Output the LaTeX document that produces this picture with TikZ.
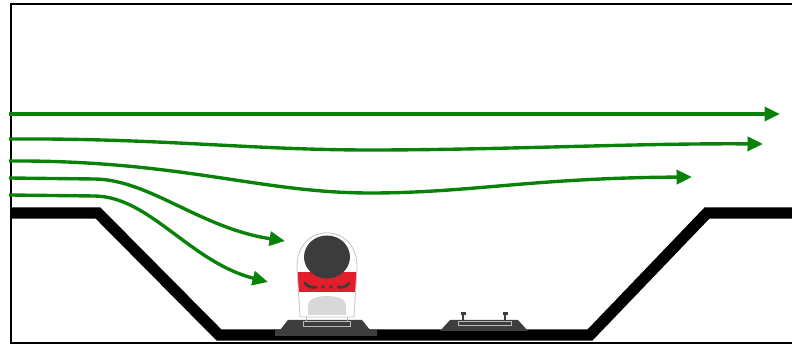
\documentclass[tikz,border=0pt]{standalone}
\usepackage{tikz}
\usetikzlibrary{arrows.meta}

\definecolor{flowgreen}{RGB}{10,130,10}
\definecolor{slabgray}{RGB}{62,62,62}
\definecolor{windowgray}{RGB}{60,60,60}
\definecolor{trainred}{RGB}{226,30,42}
\definecolor{bumpergray}{RGB}{216,216,216}

\begin{document}
\begin{tikzpicture}[x=0.025cm,y=-0.025cm,
    flow/.style={draw=flowgreen,line width=2.4pt,-{Triangle[length=11pt,width=10pt]}},
    ground/.style={line width=8pt,line join=miter},
    slab/.style={fill=slabgray},
    rail/.style={draw=slabgray,line width=1pt}]
  \useasboundingbox (0,0) rectangle (792,347);

  \draw[line width=1.6pt] (800,4) -- (11,4) -- (11,343) -- (800,343);

  \draw[ground] (11,213) -- (98,213) -- (219,335) -- (590,335) -- (707,213) -- (800,213);

  % track slabs
  \fill[slab] (275,336) -- (275,330) -- (280,330) -- (288,320) -- (362,320)
    -- (370,330) -- (377,330) -- (377,336) -- cycle;
  \fill[slab] (440,331) -- (450,320) -- (518,320) -- (528,331) -- cycle;
  \draw[gray!55,line width=0.6pt] (303,321) rectangle (350,326);
  \draw[gray!55,line width=0.6pt] (458,321) rectangle (511,325);
  \foreach \r in {463,505}{
      \draw[rail] (\r,314) -- (\r,320);
      \fill[slabgray] (\r-2.5,312) rectangle (\r+2.5,315);
  }

  % train
  \draw[gray!60,line width=0.8pt] (303,316) -- (350,316);
  \draw[gray!60,line width=0.6pt] (306,316) -- (306,321) (347,316) -- (347,321);
  \def\trainbody{(300,317) -- (297,268) .. controls (296,221) and (358,221) .. (357,268) -- (354,317) -- cycle}
  \fill[white] \trainbody;
  \begin{scope}
    \clip \trainbody;
    \fill[trainred] (290,272) rectangle (365,292);
  \end{scope}
  \draw[gray!45,line width=0.6pt] \trainbody;
  \fill[windowgray] (327,257) ellipse [x radius=23, y radius=21.5];
  \draw[windowgray,line width=2pt,line cap=round] (305,283) .. controls (308,287) and (312,288) .. (316,287);
  \draw[windowgray,line width=2pt,line cap=round] (349,283) .. controls (346,287) and (342,288) .. (338,287);
  \fill[windowgray] (323,287) circle [radius=1.8] (331,287) circle [radius=1.8];
  \fill[bumpergray] (308,315) -- (308,305) .. controls (308,293) and (346,293) .. (346,305) -- (346,315) -- cycle;

  % air flow
  \draw[flow] (9,114) -- (780,114);
  \draw[flow] (9,139) .. controls (160,138) and (250,150) .. (370,150)
    .. controls (500,150) and (640,143) .. (763,144);
  \draw[flow] (9,161) .. controls (180,160) and (260,193) .. (370,193)
    .. controls (470,193) and (530,178) .. (692,177);
  \draw[flow] (9,178) -- (95,179) .. controls (150,180) and (200,228) .. (285,241);
  \draw[flow] (9,195) -- (95,196) .. controls (150,197) and (190,262) .. (268,282);
\end{tikzpicture}
\end{document}
